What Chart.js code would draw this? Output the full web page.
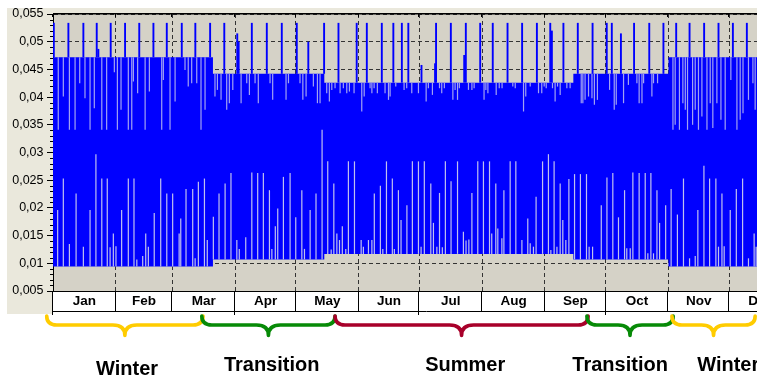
<!DOCTYPE html>
<html>
<head>
<meta charset="utf-8">
<script src="https://cdn.jsdelivr.net/npm/chart.js@4.4.1/dist/chart.umd.min.js"></script>
<style>
  html, body { margin: 0; padding: 0; background: #fff; overflow: hidden; width: 757px; height: 379px; }
  #wrap { position: absolute; left: 0; top: 0; width: 800px; height: 379px; }
</style>
</head>
<body>
<div id="wrap"><canvas id="c" width="800" height="379"></canvas></div>
<script>
// ---- data -------------------------------------------------------------
const monthLabels = ['Jan','Feb','Mar','Apr','May','Jun','Jul','Aug','Sep','Oct','Nov','Dec'];
const monthStarts = [0, 31, 59, 90, 120, 151, 181, 212, 243, 273, 304, 334, 365];
const seasonNames = ['Winter', 'Transition', 'Summer', 'Transition', 'Winter'];

// load band per tariff period: first day of period, upper and lower level
const periodStart = [0, 79, 134, 257, 304, 365];
const periodHigh  = [0.0472, 0.0442, 0.0426, 0.0442, 0.0472];
const periodLow   = [0.0094, 0.0107, 0.0117, 0.0107, 0.0094];

// [day, peak value] – short maxima above the band
const peaks = [
  [0.4,0.0534],[7.6,0.0534],[15,0.0534],[21.6,0.0534],[22.4,0.0487],[28.5,0.0534],[35.6,0.0534],
  [42.6,0.0534],[49.6,0.0534],[56.2,0.0534],[63.6,0.0534],[70.3,0.0534],[77.6,0.0534],
  [84.6,0.0534],[91,0.0515],[91.7,0.0500],[98.2,0.0534],[105.6,0.0534],[113,0.0534],[120.4,0.0534],
  [126.1,0.0500],[133.9,0.0534],
  [141,0.0534],[150,0.0534],[155,0.0534],[162.4,0.0534],[168.1,0.0534],[172.3,0.0534],[175.5,0.0534],
  [182,0.0458],[188.7,0.0461],[189.2,0.0534],[196.5,0.0534],[203.1,0.0476],[203.9,0.0534],[211,0.0534],
  [217.2,0.0534],[224.5,0.0534],[231.7,0.0534],[239,0.0534],[245.6,0.0534],[246.4,0.0520],[252.1,0.0534],
  [259.2,0.0534],[266.5,0.0534],[273.5,0.0534],[276,0.0534],[280.5,0.0515],[287,0.0534],[294.5,0.0534],
  [301.5,0.0534],
  [307.8,0.0534],[314.4,0.0534],[321.6,0.0534],[328.7,0.0534],[335.8,0.0534],[342.7,0.0534]
];

// [day, value] – hours whose maximum stays below the band top
const topDips = [
  [2.6,0.0341],[5.1,0.0401],[8.1,0.0341],[10.9,0.0341],[13.2,0.0425],[15.8,0.0398],[18.3,0.0341],
  [20.4,0.0380],[24.1,0.0341],[26.5,0.0341],[30.3,0.0445],[31.8,0.0341],[33.6,0.0377],[37.2,0.0341],
  [38.9,0.0341],[39.7,0.0428],[41.8,0.0407],[45.5,0.0341],[47.6,0.0410],[53.7,0.0341],[54.5,0.0431],
  [57.8,0.0341],[60.3,0.0392],[65.2,0.0449],[66.8,0.0419],[68.5,0.0425],[71,0.0425],[73.1,0.0341],
  [75.1,0.0377],
  [80,0.0401],[81.2,0.0413],[83,0.0395],[85.8,0.0377],[87.1,0.0389],[88.8,0.0413],[92.9,0.0389],
  [95.7,0.0425],[97,0.0404],[99.8,0.0425],[101.4,0.0389],[107.2,0.0425],[108.5,0.0395],[115.1,0.0395],
  [116.3,0.0425],[122,0.0425],[123.4,0.0395],[125,0.0401],[128.6,0.0419],[130.6,0.0389],[131.9,0.0389],
  [135.2,0.0407],[136.5,0.0392],[137.7,0.0413],[139.3,0.0416],[141.8,0.0407],[143.4,0.0416],[145.1,0.0407],
  [146.4,0.0410],[148.7,0.0407],[152.5,0.0374],[153.7,0.0401],[156.6,0.0416],[157.5,0.0407],[158.6,0.0416],
  [160.2,0.0407],[164,0.0407],[165.7,0.0395],[166.5,0.0401],[169.3,0.0419],[173.4,0.0413],[174.7,0.0416],
  [177.2,0.0407],[180.5,0.0407],[184.3,0.0392],[185.4,0.0416],[187.4,0.0404],[190.9,0.0416],[192,0.0407],
  [193.3,0.0416],[197.5,0.0395],[198.6,0.0413],[199.8,0.0395],[200.7,0.0416],[205.2,0.0413],[206.9,0.0413],
  [208,0.0416],[212.9,0.0395],[213.8,0.0413],[214.8,0.0407],[218.9,0.0404],[220.4,0.0416],[221.8,0.0416],
  [227.1,0.0419],[228.3,0.0416],[232.4,0.0374],[233.5,0.0401],[235.7,0.0419],[239.8,0.0407],[241.4,0.0407],
  [242.6,0.0419],[243.6,0.0416],[246.7,0.0416],[248,0.0392],[249.2,0.0419],[250.5,0.0404],[253.8,0.0416],
  [255.4,0.0416],
  [260.9,0.0389],[261.7,0.0389],[262.8,0.0395],[264.5,0.0401],[266.2,0.0398],[267.4,0.0386],[268.9,0.0395],
  [274.9,0.0413],[277.2,0.0377],[278.2,0.0386],[281.8,0.0389],[284.2,0.0422],[288.4,0.0425],[289.5,0.0389],
  [290.9,0.0389],[291.7,0.0425],[295.8,0.0401],[296.6,0.0425],[298.6,0.0425],
  [306.2,0.0341],[307.3,0.0350],[309.4,0.0341],[311.1,0.0389],[312.3,0.0377],[313.4,0.0341],[315.9,0.0350],
  [317.2,0.0377],[318.8,0.0341],[320.5,0.0365],[323,0.0341],[324.6,0.0389],[325.9,0.0344],[327.9,0.0389],
  [329.9,0.0359],[332,0.0341],[334.8,0.0431],[337.8,0.0341],[339.4,0.0359],[340.8,0.0371],[343.5,0.0395],
  [345.7,0.0425],[346.8,0.0377]
];

// [day, value] – hours whose minimum stays above the band bottom
const lowRises = [
  [2.3,0.0196],[5.1,0.0253],[8.1,0.0135],[11.4,0.0226],[15,0.0130],[18.3,0.0196],[21.2,0.0297],
  [24.1,0.0253],[26.8,0.0253],[28.2,0.0129],[29.8,0.0154],[31.1,0.0131],[33.9,0.0196],[37.2,0.0253],
  [40,0.0253],[41.4,0.0107],[44.3,0.0113],[45.8,0.0154],[47.1,0.0130],[50,0.0191],[53.2,0.0253],
  [56.2,0.0226],[59.1,0.0226],[62.3,0.0154],[63.1,0.0181],[65.7,0.0234],[69,0.0234],[70.2,0.0109],
  [71.8,0.0247],[74.8,0.0253],[76.2,0.0142],
  [79.2,0.0184],[82,0.0226],[85,0.0244],[87.9,0.0263],[90.8,0.0142],[92,0.0126],[95.2,0.0147],
  [98.2,0.0264],[101.1,0.0263],[103.9,0.0263],[106.9,0.0232],[108.1,0.0126],[109.8,0.0167],[111,0.0199],
  [113.8,0.0256],[117.1,0.0263],[119.9,0.0183],[122.9,0.0232],[124.2,0.0126],[127,0.0196],[129.9,0.0226],
  [132.9,0.0341],
  [135.7,0.0284],[137.4,0.0125],[138.7,0.0244],[140.2,0.0154],[141.5,0.0142],[142.9,0.0167],[144.6,0.0126],
  [145.9,0.0284],[148.9,0.0284],[152.2,0.0142],[153.3,0.0130],[155.8,0.0142],[157.5,0.0142],[158.7,0.0226],
  [161.7,0.0240],[162.9,0.0126],[164.7,0.0284],[167.6,0.0253],[168.6,0.0126],[170.6,0.0232],[171.9,0.0178],
  [174.8,0.0205],[177.5,0.0284],[180.5,0.0284],[181.8,0.0130],[183.4,0.0284],[186.6,0.0244],[187.9,0.0173],
  [189.6,0.0130],[190.9,0.0227],[192.3,0.0129],[193.8,0.0284],[196.6,0.0248],[199.8,0.0284],[202.7,0.0157],
  [204,0.0141],[205.4,0.0143],[206.9,0.0227],[209.8,0.0284],[212.6,0.0284],[215.6,0.0284],[216.7,0.0154],
  [218.7,0.0244],[219.7,0.0163],[221.7,0.0145],[222.7,0.0232],[225.8,0.0284],[228.6,0.0284],[231.6,0.0142],
  [234.5,0.0181],[235.7,0.0136],[237.3,0.0130],[238.6,0.0220],[241.8,0.0284],[244.7,0.0297],[245.9,0.0124],
  [247.5,0.0284],[248.9,0.0130],[250.5,0.0244],[251.8,0.0178],[253.3,0.0142],[254.8,0.0252],
  [257.6,0.0261],[260.5,0.0261],[263.5,0.0261],[264.8,0.0130],[266.5,0.0130],[270.8,0.0205],[273.6,0.0255],
  [276.5,0.0263],[279.3,0.0183],[282.3,0.0232],[283.4,0.0127],[285.1,0.0127],[286.4,0.0264],[289.5,0.0263],
  [292.5,0.0263],[293.8,0.0118],[295.3,0.0263],[296.6,0.0118],[298.3,0.0232],[299.6,0.0173],[302.6,0.0205],
  [305.3,0.0234],[308.4,0.0188],[311.4,0.0253],[314.4,0.0109],[317.2,0.0113],[318.5,0.0196],[321.5,0.0276],
  [324.3,0.0253],[327.4,0.0253],[328.7,0.0130],[330.4,0.0226],[331.5,0.0131],[334.5,0.0196],[337.5,0.0234],
  [340.6,0.0253],[343.5,0.0109],[346.3,0.0154],[347.3,0.0130]
];

// ---- annotation layout (day units on the x scale) ----------------------
const braceSpans  = [[-3.1, 74.1], [73.5, 139.3], [139.3, 264.3], [263.7, 306.3], [305.7, 346.8]];
const braceColors = ['#ffcc00', '#078a07', '#a8002a', '#078a07', '#ffcc00'];
const labelAnchor = [[36.6, 375], [108, 371], [203.6, 371], [280.1, 371], [333.5, 371]];

// ---- helpers ----------------------------------------------------------
function periodOf(d) {
  let i = 0;
  while (i < periodHigh.length - 1 && d >= periodStart[i + 1]) i++;
  return i;
}
const bandTop = periodStart.map((d, i) => ({ x: d, y: periodHigh[Math.min(i, periodHigh.length - 1)] }));
const bandBottom = periodStart.map((d, i) => ({ x: d, y: periodLow[Math.min(i, periodLow.length - 1)] }));
const peakBars = peaks.map(([d, v]) => ({ x: d, y: [periodHigh[periodOf(d)], v] }));
const dipBars = topDips.map(([d, v]) => ({ x: d, y: [v, periodHigh[periodOf(d)]] }));
const riseBars = lowRises.map(([d, v]) => ({ x: d, y: [periodLow[periodOf(d)], v] }));
const monthMids = monthLabels.map((_, i) => (monthStarts[i] + monthStarts[i + 1]) / 2);

const FONT = "'Liberation Sans', Arial, Helvetica, sans-serif";

const decorations = {
  id: 'decorations',
  beforeDraw(chart) {
    const { ctx, chartArea: a } = chart;
    ctx.save();
    ctx.fillStyle = '#ffffff';
    ctx.fillRect(0, 0, chart.width, chart.height);
    ctx.fillStyle = '#eae8dc';
    ctx.fillRect(7, 8, chart.width - 7, a.top - 8);
    ctx.fillRect(7, 8, a.left - 7, 306);
    ctx.fillStyle = '#d5d2c7';
    ctx.fillRect(a.left, a.top, a.right - a.left, a.bottom - a.top);
    ctx.fillStyle = '#ffffff';
    ctx.fillRect(a.left, a.bottom, chart.width - a.left, 20);
    ctx.restore();
  },
  afterDatasetsDraw(chart) {
    const { ctx, chartArea: a, scales } = chart;
    const xs = scales.x, ys = scales.y;
    ctx.save();
    // frame top line and month ticks hanging from it
    ctx.fillStyle = '#000';
    ctx.fillRect(a.left, a.top - 1, chart.width - a.left, 1.5);
    monthStarts.forEach(d => {
      const px = Math.round(xs.getPixelForValue(d)) - 0.5;
      ctx.fillRect(px - 0.5, a.top, 1, 3);
    });
    // minor ticks on the value axis
    for (let k = 5; k <= 55; k++) {
      if (k % 5 === 0) continue;
      const py = Math.round(ys.getPixelForValue(k / 1000)) + 0.5;
      ctx.fillRect(a.left - 3, py - 0.5, 3, 1);
    }
    // month label strip
    ctx.strokeStyle = '#000';
    ctx.lineWidth = 1;
    ctx.beginPath();
    ctx.moveTo(a.left, 311.5);
    ctx.lineTo(chart.width, 311.5);
    monthStarts.forEach((d, i) => {
      const px = Math.round(xs.getPixelForValue(d)) - 0.5;
      const quarter = (i % 3 === 0);
      ctx.moveTo(px, a.bottom);
      ctx.lineTo(px, quarter ? 315 : 311.5);
    });
    ctx.stroke();

    // season braces
    ctx.lineCap = 'round';
    ctx.lineJoin = 'round';
    ctx.lineWidth = 3.6;
    const yTop = 316, yMid = 325, yTip = 335.5;
    braceSpans.forEach(([d0, d1], i) => {
      const x0 = xs.getPixelForValue(d0), x1 = xs.getPixelForValue(d1);
      const xc = (x0 + x1) / 2, r = 10, rc = 12;
      ctx.strokeStyle = braceColors[i];
      ctx.beginPath();
      ctx.moveTo(x0, yTop);
      ctx.quadraticCurveTo(x0, yMid, x0 + r, yMid);
      ctx.lineTo(xc - rc, yMid);
      ctx.quadraticCurveTo(xc, yMid, xc, yTip);
      ctx.quadraticCurveTo(xc, yMid, xc + rc, yMid);
      ctx.lineTo(x1 - r, yMid);
      ctx.quadraticCurveTo(x1, yMid, x1, yTop);
      ctx.stroke();
    });

    // season names
    ctx.fillStyle = '#000';
    ctx.font = 'bold 20px ' + FONT;
    ctx.textAlign = 'center';
    ctx.textBaseline = 'alphabetic';
    seasonNames.forEach((name, i) => {
      const [d, y] = labelAnchor[i];
      ctx.fillText(name, xs.getPixelForValue(d), y);
    });
    ctx.restore();
  }
};

const barCommon = {
  type: 'bar', grouped: false, borderWidth: 0, inflateAmount: 0,
  xAxisID: 'x', yAxisID: 'y'
};

new Chart(document.getElementById('c'), {
  type: 'bar',
  data: {
    datasets: [
      Object.assign({ label: 'peaks', data: peakBars, backgroundColor: '#0000ff', barThickness: 1.9, order: 1 }, barCommon),
      Object.assign({ label: 'top dips', data: dipBars, backgroundColor: '#a2a2f2', barThickness: 1.2, order: 2 }, barCommon),
      Object.assign({ label: 'low rises', data: riseBars, backgroundColor: '#c0c0ee', barThickness: 1.2, order: 3 }, barCommon),
      { type: 'line', label: 'band', data: bandTop, stepped: true, borderWidth: 0, pointRadius: 0,
        backgroundColor: '#0000ff', fill: '+1', order: 10, xAxisID: 'x', yAxisID: 'y' },
      { type: 'line', label: 'band bottom', data: bandBottom, stepped: true, borderWidth: 0, pointRadius: 0,
        fill: false, order: 11, xAxisID: 'x', yAxisID: 'y' }
    ]
  },
  options: {
    responsive: false,
    devicePixelRatio: 1,
    animation: false,
    events: [],
    layout: { padding: { left: 0, top: 14, right: 8, bottom: 0 } },
    plugins: { legend: { display: false }, tooltip: { enabled: false } },
    scales: {
      y: {
        type: 'linear', position: 'left', min: 0.005, max: 0.055,
        afterFit: s => { s.width = 53; },
        ticks: {
          stepSize: 0.005, padding: 3.5, color: '#000',
          font: { family: FONT, size: 12.5 },
          callback: v => String(+v.toFixed(3)).replace('.', ',')
        },
        grid: { color: '#333', lineWidth: 1, tickLength: 6, tickColor: '#000', tickBorderDash: [] },
        border: { display: true, color: '#000', width: 1, dash: [4, 3] }
      },
      x: {
        type: 'linear', position: 'bottom', min: 0, max: 365, offset: false,
        afterBuildTicks: s => { s.ticks = monthStarts.map(v => ({ value: v })); },
        afterFit: s => { s.height = 0; },
        ticks: { display: false },
        grid: { color: '#333', lineWidth: 1, drawTicks: false, offset: false },
        border: { display: true, color: '#000', width: 1, dash: [4, 3] }
      },
      months: {
        type: 'linear', position: 'bottom', min: 0, max: 365, offset: false,
        afterBuildTicks: s => { s.ticks = monthMids.map(v => ({ value: v })); },
        afterFit: s => { s.height = 88; },
        ticks: {
          autoSkip: false, maxRotation: 0, padding: 2.5, color: '#000',
          font: { family: FONT, size: 13.5, weight: 'bold' },
          callback: (v, i) => monthLabels[i]
        },
        grid: { display: false, drawTicks: false },
        border: { display: false }
      }
    }
  },
  plugins: [decorations]
});
</script>
</body>
</html>
